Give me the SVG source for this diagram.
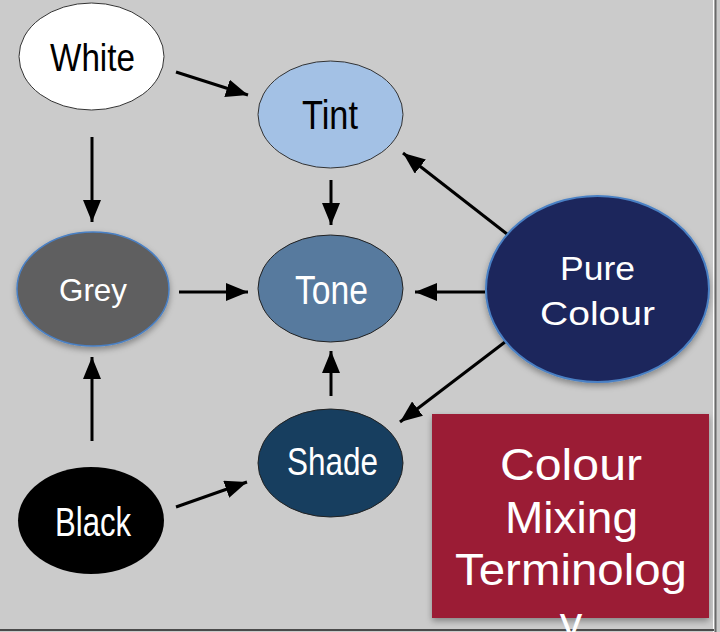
<svg xmlns="http://www.w3.org/2000/svg" width="720" height="632" viewBox="0 0 720 632">
<style>
.lbl{font-family:"Liberation Sans",Arial,sans-serif;text-anchor:middle}
.dk{fill:#000}
.wt{fill:#fff}
.gothic{font-family:"Liberation Sans",Arial,sans-serif;fill:#fff;text-anchor:middle}
.conn line{stroke:#000;stroke-width:3;marker-end:url(#ah)}
</style>
<defs>
<marker id="ah" markerUnits="userSpaceOnUse" markerWidth="24" markerHeight="18" refX="22" refY="9" orient="auto">
<path d="M0,0 L22,9 L0,18 Z" fill="#000"/>
</marker>
<filter id="sh" x="-20%" y="-20%" width="140%" height="150%">
<feDropShadow dx="0" dy="3" stdDeviation="3" flood-color="#000" flood-opacity="0.35"/>
</filter>
</defs>
<rect x="0" y="0" width="720" height="632" fill="#cbcbcb"/>
<rect x="713" y="0" width="1.5" height="632" fill="#ffffff"/>
<rect x="714.5" y="0" width="2" height="632" fill="#6a6a6a"/>
<rect x="0" y="629" width="714" height="2" fill="#4a4a4a"/>

<g id="connectors" class="conn">
<line x1="176" y1="72" x2="248" y2="95"/>
<line x1="92" y1="137" x2="92" y2="222"/>
<line x1="331" y1="180" x2="331" y2="225"/>
<line x1="179" y1="292" x2="248" y2="292"/>
<line x1="485" y1="292" x2="415" y2="292"/>
<line x1="507" y1="234" x2="403" y2="153"/>
<line x1="505" y1="342" x2="400" y2="422"/>
<line x1="331" y1="396" x2="331" y2="351"/>
<line x1="92" y1="441" x2="92" y2="357"/>
<line x1="176" y1="507" x2="247" y2="482"/>
</g>

<g id="white">
<ellipse cx="91.5" cy="56.5" rx="72.5" ry="53.5" fill="#ffffff" stroke="#333" stroke-width="1"/>
<text class="lbl dk" x="92.5" y="71" font-size="39" textLength="85" lengthAdjust="spacingAndGlyphs">White</text>
</g>
<g id="tint">
<ellipse cx="330.5" cy="114.5" rx="72.5" ry="53.5" fill="#a3c1e5" stroke="#333" stroke-width="1"/>
<text class="lbl dk" x="330" y="129" font-size="40" textLength="56" lengthAdjust="spacingAndGlyphs">Tint</text>
</g>
<g id="grey">
<ellipse cx="93" cy="289" rx="76" ry="57" fill="#5f5f61" stroke="#4a80c4" stroke-width="1.5" filter="url(#sh)"/>
<text class="lbl wt" x="93" y="301" font-size="32" textLength="68" lengthAdjust="spacingAndGlyphs">Grey</text>
</g>
<g id="tone">
<ellipse cx="330.5" cy="288.5" rx="72.5" ry="53.5" fill="#577a9e" stroke="#222" stroke-width="1"/>
<text class="lbl wt" x="331.5" y="304" font-size="40" textLength="73" lengthAdjust="spacingAndGlyphs">Tone</text>
</g>
<g id="shade">
<ellipse cx="330.5" cy="463" rx="72.5" ry="54" fill="#173e5f" stroke="#222" stroke-width="1"/>
<text class="lbl wt" x="332.5" y="475" font-size="39" textLength="91" lengthAdjust="spacingAndGlyphs">Shade</text>
</g>
<g id="black">
<ellipse cx="91" cy="520.5" rx="73" ry="53.5" fill="#000000"/>
<text class="lbl wt" x="93" y="536" font-size="40" textLength="76" lengthAdjust="spacingAndGlyphs">Black</text>
</g>
<g id="pure-colour">
<ellipse cx="597.5" cy="289" rx="111.5" ry="93" fill="#1e265c" stroke="#4a80c4" stroke-width="2" filter="url(#sh)"/>
<text class="gothic" x="597.5" y="280" font-size="34" textLength="75" lengthAdjust="spacingAndGlyphs">Pure</text>
<text class="gothic" x="597.5" y="325" font-size="34" textLength="115" lengthAdjust="spacingAndGlyphs">Colour</text>
</g>
<g id="title">
<rect x="432" y="414" width="277" height="204" fill="#9b1b35" filter="url(#sh)"/>
<text class="gothic" x="571" y="480" font-size="45" textLength="142" lengthAdjust="spacingAndGlyphs">Colour</text>
<text class="gothic" x="571.5" y="533" font-size="45" textLength="133" lengthAdjust="spacingAndGlyphs">Mixing</text>
<text class="gothic" x="571" y="585" font-size="45" textLength="232" lengthAdjust="spacingAndGlyphs">Terminolog</text>
<text class="gothic" x="571" y="638" font-size="45">y</text>
</g>
</svg>
